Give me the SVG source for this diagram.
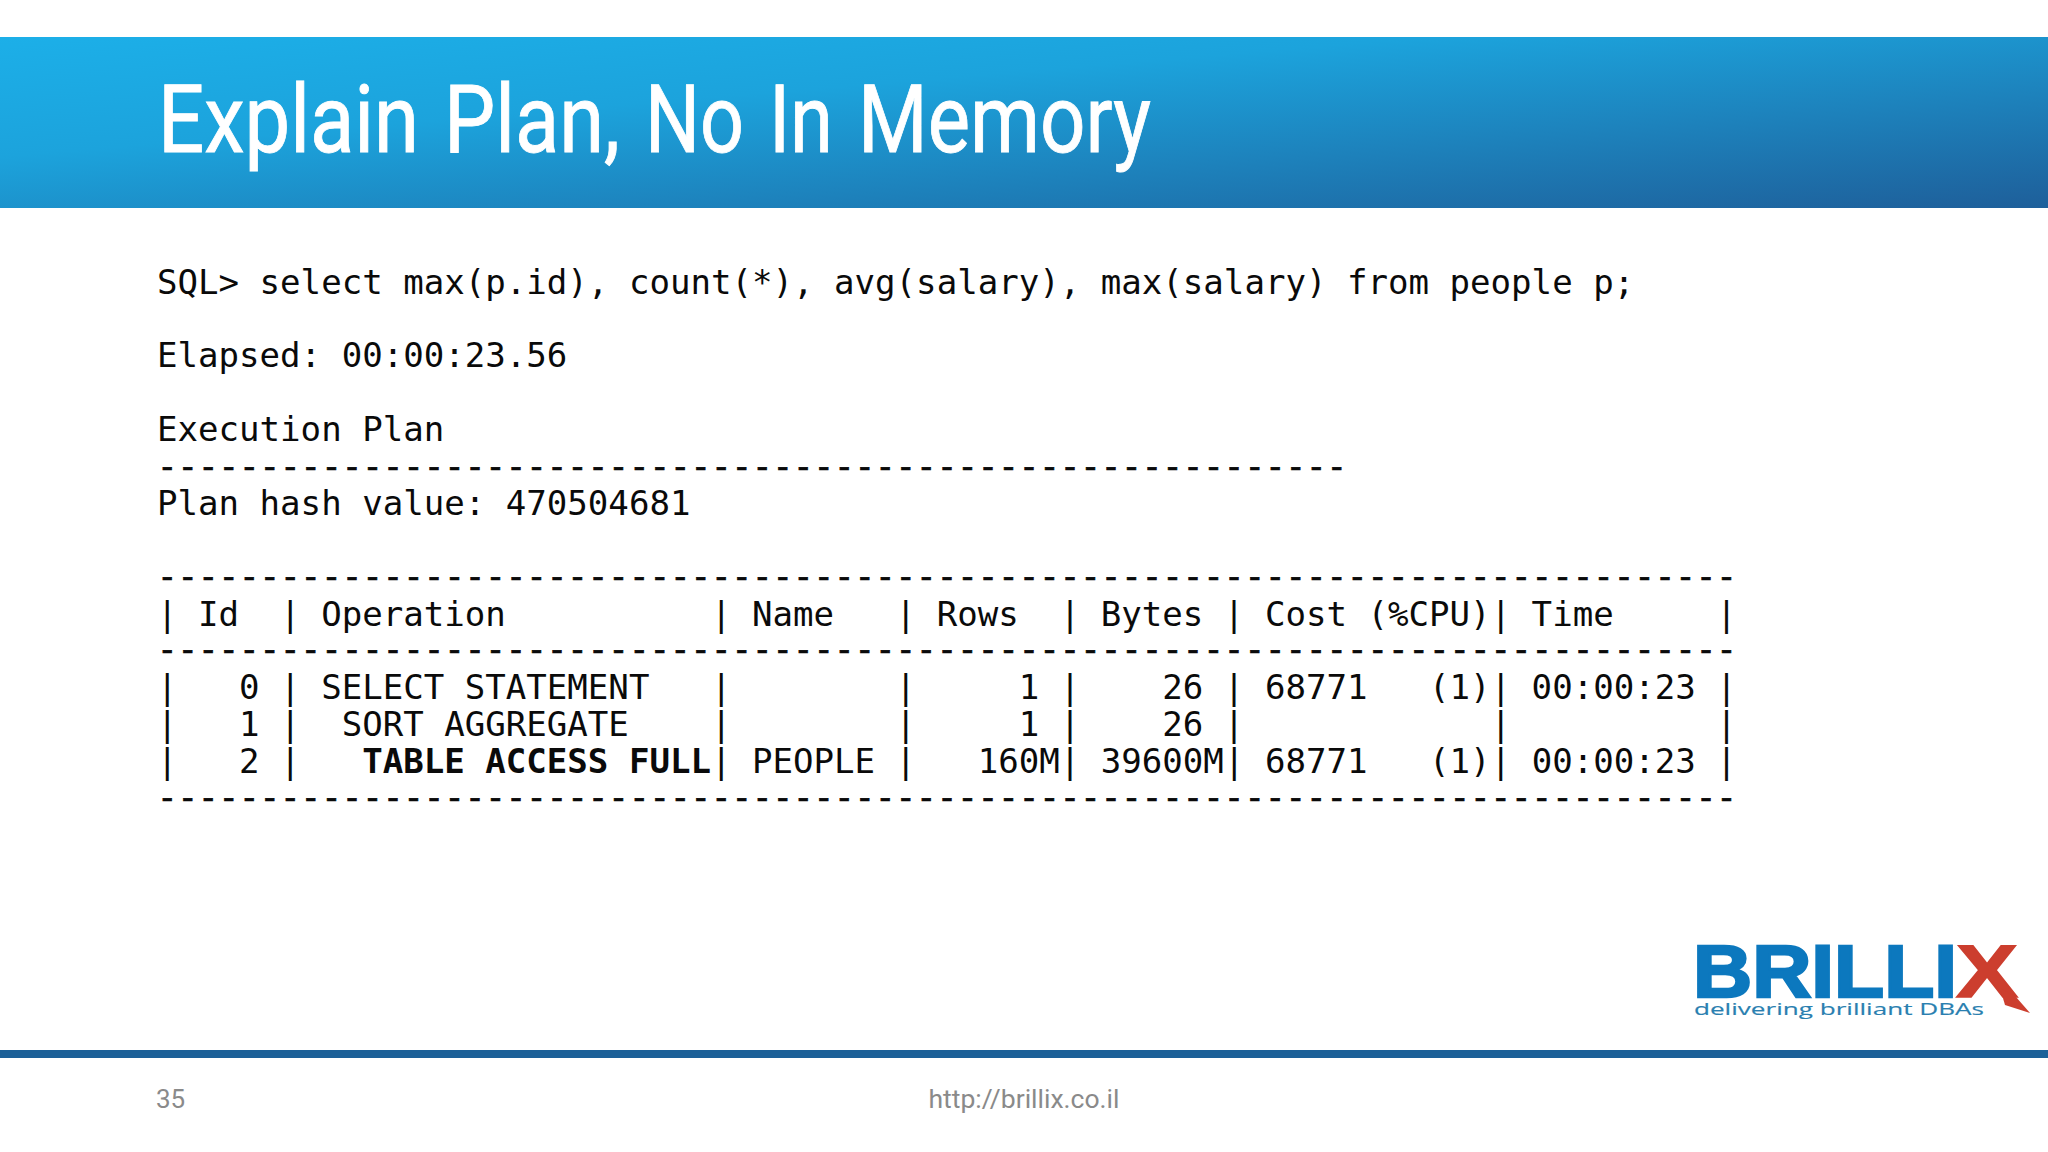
<svg xmlns="http://www.w3.org/2000/svg" width="2048" height="1152" viewBox="0 0 2048 1152">
<defs>
<linearGradient id="band" x1="0" y1="0" x2="1" y2="1">
<stop offset="0" stop-color="#1cafe8"/>
<stop offset="0.35" stop-color="#1ca3dc"/>
<stop offset="1" stop-color="#1e5f9a"/>
</linearGradient>
</defs>
<style>
.m{font-family:"DejaVu Sans Mono","Liberation Mono",monospace;font-size:34.09px;fill:#0a0a0a;white-space:pre}
.b{font-weight:bold}
.d{stroke:#0a0a0a;stroke-width:0.7px}
.f{font-family:Roboto,"Liberation Sans",sans-serif;font-size:26px;fill:#8a8a8a}
</style>
<rect width="2048" height="1152" fill="#ffffff"/>
<g id="header">
<rect x="0" y="37" width="2048" height="171" fill="url(#band)"/>
<text y="152" font-family="Roboto,'Liberation Sans',sans-serif" font-size="95" fill="#ffffff" stroke="#ffffff" stroke-width="0.9"><tspan x="158" textLength="261" lengthAdjust="spacingAndGlyphs">Explain</tspan> <tspan x="444" textLength="176" lengthAdjust="spacingAndGlyphs">Plan,</tspan> <tspan x="645" textLength="99" lengthAdjust="spacingAndGlyphs">No</tspan> <tspan x="769" textLength="64" lengthAdjust="spacingAndGlyphs">In</tspan> <tspan x="858" textLength="293" lengthAdjust="spacingAndGlyphs">Memory</tspan></text>
</g>
<g id="code" xml:space="preserve">
<text class="m" x="157" y="294">SQL&gt; select max(p.id), count(*), avg(salary), max(salary) from people p;</text>
<text class="m" x="157" y="367">Elapsed: 00:00:23.56</text>
<text class="m" x="157" y="441">Execution Plan</text>
<text class="m d" x="157" y="478">----------------------------------------------------------</text>
<text class="m" x="157" y="515">Plan hash value: 470504681</text>
<text class="m d" x="157" y="588">-----------------------------------------------------------------------------</text>
<text class="m" x="157" y="626">| Id  | Operation          | Name   | Rows  | Bytes | Cost (%CPU)| Time     |</text>
<text class="m d" x="157" y="661">-----------------------------------------------------------------------------</text>
<text class="m" x="157" y="699">|   0 | SELECT STATEMENT   |        |     1 |    26 | 68771   (1)| 00:00:23 |</text>
<text class="m" x="157" y="736">|   1 |  SORT AGGREGATE    |        |     1 |    26 |            |          |</text>
<text class="m" x="157" y="773">|   2 |   <tspan class="b">TABLE ACCESS FULL</tspan>| PEOPLE |   160M| 39600M| 68771   (1)| 00:00:23 |</text>
<text class="m d" x="157" y="809">-----------------------------------------------------------------------------</text>
</g>
<g id="logo">
<text x="1693" y="997" font-family="'Liberation Sans',Arial,sans-serif" font-weight="bold" font-size="74" fill="#0c78be" stroke="#0c78be" stroke-width="2.5" textLength="264" lengthAdjust="spacingAndGlyphs">BRILLI</text>
<text x="1956" y="997" font-family="'Liberation Sans',Arial,sans-serif" font-weight="bold" font-size="74" fill="#cc3e2e" stroke="#cc3e2e" stroke-width="1.5" textLength="62" lengthAdjust="spacingAndGlyphs">X</text>
<polygon points="2000,988 2016,997 2030,1013 2005,1005" fill="#cc3e2e"/>
<text x="1694" y="1015" font-family="'Open Sans','Liberation Sans',sans-serif" font-size="15.5" fill="#2a7fb0" stroke="#2a7fb0" stroke-width="0.15" textLength="290" lengthAdjust="spacingAndGlyphs">delivering brilliant DBAs</text>
</g>
<g id="footer">
<rect x="0" y="1050" width="2048" height="8" fill="#1c6098"/>
<text class="f" x="156" y="1108">35</text>
<text class="f" x="1024" y="1108" text-anchor="middle" textLength="191" lengthAdjust="spacingAndGlyphs">http://brillix.co.il</text>
</g>
</svg>
